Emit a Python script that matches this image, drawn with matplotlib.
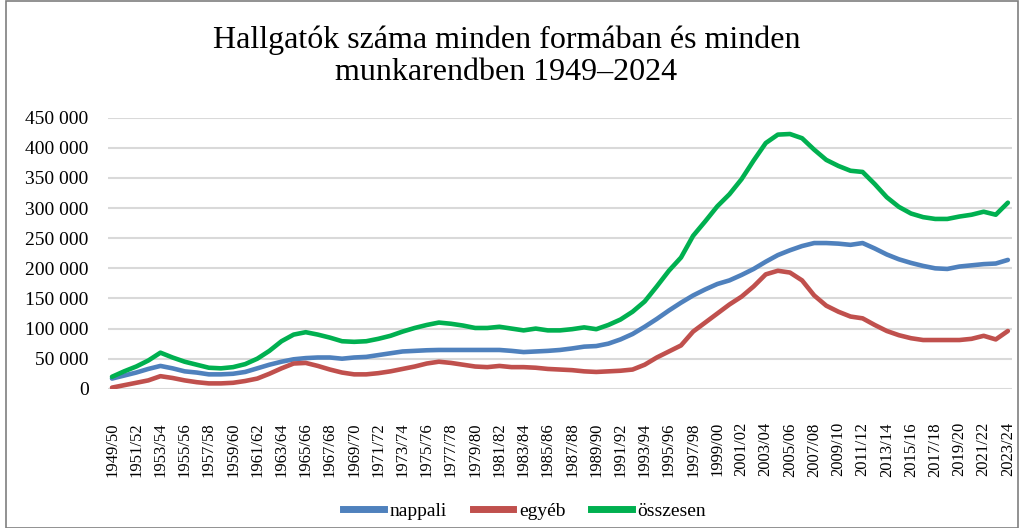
import matplotlib
matplotlib.use('Agg')
import matplotlib.pyplot as plt
from matplotlib.lines import Line2D
from matplotlib.ticker import FuncFormatter

# tanévek 1949/50 ... 2023/24
evek = [f'{y}/{str(y + 1)[-2:]}' for y in range(1949, 2024)]

# hallgatók száma (ezer fő)
nappali = [17, 22, 27, 33, 38, 34, 29, 27, 24, 24,
           25, 28, 34, 40, 45, 49, 51, 52, 52, 50,
           52, 53, 56, 59, 62, 63, 64, 64.5, 64.5, 64.5,
           64.5, 64.5, 64.5, 63, 61, 62, 63, 64.5, 67, 70,
           71, 75, 82, 91, 103, 116, 130, 143, 155, 165,
           174, 180, 189, 199, 211, 222, 230, 237, 242, 242,
           241, 239, 242, 233, 223, 215, 209, 204, 200, 199,
           203, 205, 207, 208, 214]
egyeb = [2, 6, 10, 14, 21, 18, 14, 11, 9, 9,
         10, 13, 17, 25, 34, 42, 43, 38, 32, 27,
         24, 24, 26, 29, 33, 37, 42, 45, 43, 40,
         37, 36, 38, 36, 36, 35, 33, 32, 31, 29,
         28, 29, 30, 32, 40, 52, 62, 72, 95, 110,
         125, 140, 153, 170, 190, 196, 193, 180, 155, 138,
         128, 120, 117, 106, 96, 89, 84, 81, 81, 81,
         81, 83, 88, 82, 96]
osszesen = [20, 29, 37, 47, 60, 52, 45, 40, 35, 34,
            36, 41, 50, 63, 79, 90, 94, 90, 85, 79,
            78, 79, 83, 88, 95, 101, 106, 110, 108, 105,
            101, 101, 103, 100, 97, 100, 97, 97, 99, 102,
            99, 106, 115, 128, 145, 170, 196, 218, 254, 278,
            303, 323, 348, 379, 408, 422, 423, 416, 397, 380,
            370, 362, 360, 340, 318, 302, 291, 285, 282, 282,
            286, 289, 294, 289, 309]

sorozatok = [('nappali', nappali, '#4F81BD'),
             ('egyéb', egyeb, '#C0504D'),
             ('összesen', osszesen, '#00B050')]

plt.rcParams['font.family'] = ['Liberation Serif', 'DejaVu Serif']

fig = plt.figure(figsize=(10.19, 5.28), dpi=100)
ax = fig.add_axes([0.106, 0.2636, 0.887, 0.5134])

x = list(range(len(evek)))
for nev, ertek, szin in sorozatok:
    ax.plot(x, [v * 1000 for v in ertek], color=szin, linewidth=3.3,
            solid_capstyle='round', label=nev, zorder=3)

ax.set_ylim(0, 450000)
ax.set_yticks(range(0, 450001, 50000))
ax.yaxis.set_major_formatter(FuncFormatter(lambda v, p: f'{int(v):,}'.replace(',', ' ')))
ax.set_xlim(-0.33, len(evek) - 1 + 0.33)
ax.set_xticks(x[::2])
ax.set_xticklabels(evek[::2], rotation=90)
ax.tick_params(axis='x', length=0, pad=24, labelsize=12)
ax.tick_params(axis='y', length=0, pad=14, labelsize=14)
ax.grid(axis='y', color='#D9D9D9', linewidth=1.5, zorder=0)
for s in ax.spines.values():
    s.set_visible(False)

fig.text(0.497, 0.952, 'Hallgatók száma minden formában és minden\nmunkarendben 1949–2024',
         ha='center', va='top', fontsize=23, linespacing=1.15)

kezelok = [Line2D([], [], color=c, linewidth=5) for _, _, c in sorozatok]
fig.legend(kezelok, [n for n, _, _ in sorozatok], loc='center', bbox_to_anchor=(0.515, 0.032),
           ncol=3, frameon=False, fontsize=14, handlelength=2.1, handletextpad=0.3,
           columnspacing=1.3)

# keret
fig.add_artist(plt.Rectangle((0.006, 0.0), 0.993, 0.999, transform=fig.transFigure,
                             fill=False, edgecolor='#7F7F7F', linewidth=1.2))

fig.savefig('out.png', dpi=100)
